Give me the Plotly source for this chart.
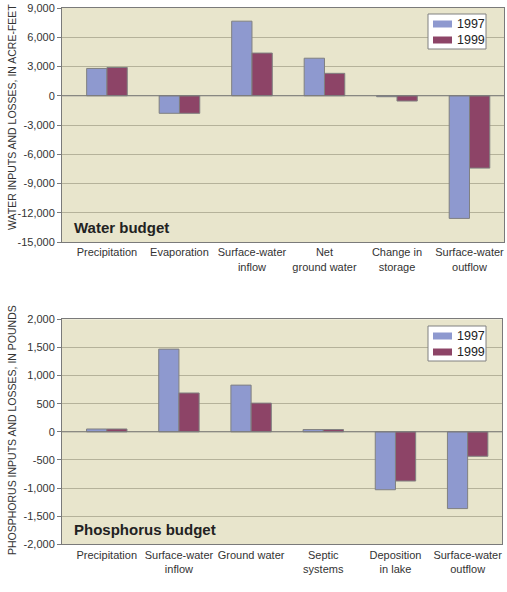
import plotly.graph_objects as go

water_categories = ["Precipitation", "Evaporation", "Surface-water<br>inflow", "Net<br>ground water",
                    "Change in<br>storage", "Surface-water<br>outflow"]
water_1997 = [2800, -1800, 7650, 3850, -100, -12580]
water_1999 = [2900, -1800, 4380, 2300, -540, -7420]

phos_categories = ["Precipitation", "Surface-water<br>inflow", "Ground water", "Septic<br>systems",
                   "Deposition<br>in lake", "Surface-water<br>outflow"]
phos_1997 = [50, 1470, 830, 40, -1030, -1365]
phos_1999 = [50, 690, 510, 40, -875, -435]

water_ticks = [9000, 6000, 3000, 0, -3000, -6000, -9000, -12000, -15000]
phos_ticks = [2000, 1500, 1000, 500, 0, -500, -1000, -1500, -2000]

FONT = "Liberation Sans, Arial, sans-serif"
C97 = "#8E99CF"
C99 = "#8D4467"
BG = "#E8E5CC"
GRID = "#B5B29A"
W, H = 507, 592

fig = go.Figure()
for cats, v97, v99, xa, ya in [
    (water_categories, water_1997, water_1999, "x", "y"),
    (phos_categories, phos_1997, phos_1999, "x2", "y2"),
]:
    fig.add_trace(go.Bar(x=cats, y=v97, name="1997", marker=dict(color=C97, line=dict(color="#808080", width=1)),
                         xaxis=xa, yaxis=ya, showlegend=False))
    fig.add_trace(go.Bar(x=cats, y=v99, name="1999", marker=dict(color=C99, line=dict(color="#808080", width=1)),
                         xaxis=xa, yaxis=ya, showlegend=False))

def fx(px):
    return px / W

def fy(py):
    return 1 - py / H

def fmt(v):
    return f"{v:,}"

TICKFONT = dict(family=FONT, size=11, color="#333333")
common_y = dict(showgrid=True, gridcolor=GRID, gridwidth=1, zeroline=False, showline=True, linecolor="#7a7a7a",
                linewidth=1, mirror=True, ticks="outside", ticklen=4, tickcolor="#7a7a7a",
                tickfont=TICKFONT, automargin=False)
common_x = dict(showgrid=False, zeroline=False, showline=True, linecolor="#7a7a7a", linewidth=1, mirror=True,
                ticks="", tickfont=TICKFONT, tickangle=0, range=[-0.62, 5.476], automargin=False)

fig.update_layout(
    template="none",
    width=W, height=H, margin=dict(l=0, r=0, t=0, b=0, pad=0),
    paper_bgcolor="white", plot_bgcolor=BG,
    barmode="group", bargap=0.44, bargroupgap=0,
    font=dict(family=FONT, color="#333333"),
    xaxis=dict(domain=[fx(62), fx(504)], anchor="y", **common_x),
    yaxis=dict(domain=[fy(242), fy(8)], anchor="x", range=[-15000, 9000], tickvals=water_ticks,
               ticktext=[fmt(v) for v in water_ticks], **common_y),
    xaxis2=dict(domain=[fx(62), fx(502)], anchor="y2", **common_x),
    yaxis2=dict(domain=[fy(544.3), fy(319.3)], anchor="x2", range=[-2000, 2000], tickvals=phos_ticks,
                ticktext=[fmt(v) for v in phos_ticks], **common_y),
    showlegend=False,
)

# zero lines
fig.add_shape(type="line", xref="x domain", yref="y", x0=0, x1=1, y0=0, y1=0, line=dict(color="#7a7a7a", width=1))
fig.add_shape(type="line", xref="x2 domain", yref="y2", x0=0, x1=1, y0=0, y1=0, line=dict(color="#7a7a7a", width=1))

# axis titles
fig.add_annotation(text="WATER INPUTS AND LOSSES, IN ACRE-FEET", xref="paper", yref="paper",
                   x=fx(12), y=fy(117), textangle=-90, showarrow=False, xanchor="center", yanchor="middle",
                   font=dict(family=FONT, size=10.5, color="#333333"))
fig.add_annotation(text="PHOSPHORUS INPUTS AND LOSSES, IN POUNDS", xref="paper", yref="paper",
                   x=fx(12), y=fy(430), textangle=-90, showarrow=False, xanchor="center", yanchor="middle",
                   font=dict(family=FONT, size=10.5, color="#333333"))

# panel titles
fig.add_annotation(text="<b>Water budget</b>", xref="paper", yref="paper", x=fx(72), y=fy(227),
                   xanchor="left", yanchor="middle", showarrow=False,
                   font=dict(family=FONT, size=15, color="#222222"))
fig.add_annotation(text="<b>Phosphorus budget</b>", xref="paper", yref="paper", x=fx(72), y=fy(529),
                   xanchor="left", yanchor="middle", showarrow=False,
                   font=dict(family=FONT, size=15, color="#222222"))

# legends (drawn as boxes)
for top in (14, 326):
    fig.add_shape(type="rect", xref="paper", yref="paper", x0=fx(428), x1=fx(486), y0=fy(top + 35), y1=fy(top),
                  fillcolor="white", line=dict(color="#808080", width=1))
    for i, (lab, col) in enumerate([("1997", C97), ("1999", C99)]):
        cy = top + 10 + i * 16
        fig.add_shape(type="rect", xref="paper", yref="paper", x0=fx(433), x1=fx(452), y0=fy(cy + 3.5),
                      y1=fy(cy - 3.5), fillcolor=col, line=dict(width=0))
        fig.add_annotation(text=lab, xref="paper", yref="paper", x=fx(455), y=fy(cy), xanchor="left",
                           yanchor="middle", showarrow=False, font=dict(family=FONT, size=12.5, color="#222222"))

fig.write_html("out.html", config={"displayModeBar": False},
               post_script="document.body.style.margin='0px';")
